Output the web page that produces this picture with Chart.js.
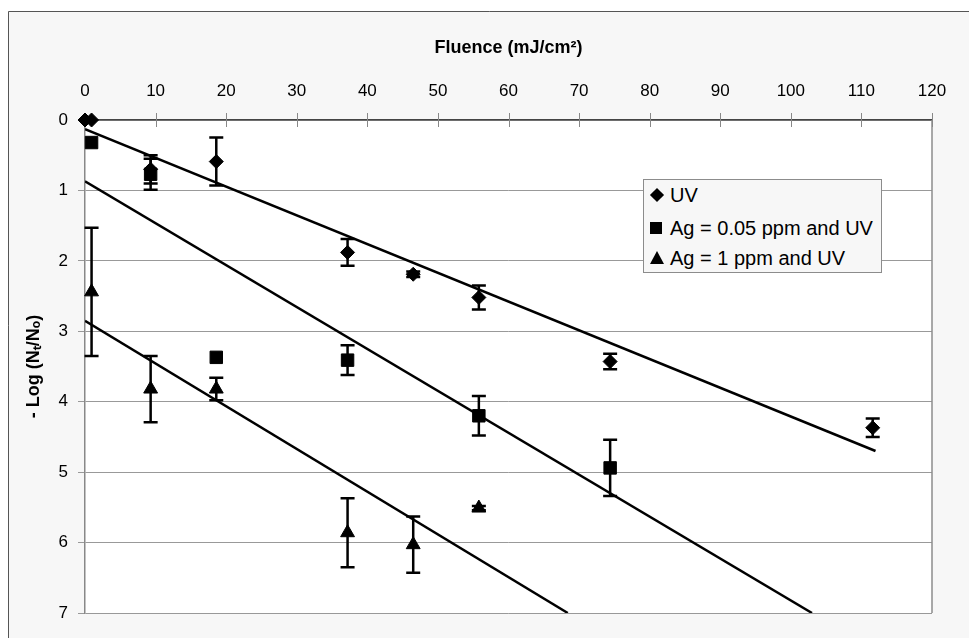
<!DOCTYPE html>
<html><head><meta charset="utf-8">
<script src="https://cdn.jsdelivr.net/npm/chart.js@4"></script>
<style>
html,body{margin:0;padding:0;background:#fff;}
#wrap{position:relative;width:969px;height:638px;overflow:hidden;}
canvas{display:block;}
#legend{position:absolute;left:643px;top:179px;width:237px;height:92px;background:#f7f7f7;border:1px solid #8c8c8c;font-family:"Liberation Sans",Arial,sans-serif;font-size:20px;color:#000;}
.item{position:absolute;left:0;height:30px;line-height:30px;white-space:nowrap;}
.txt{position:absolute;left:26px;top:0;}
.dia{position:absolute;left:8px;top:10px;width:10px;height:10px;background:#000;transform:rotate(45deg);}
.sq{position:absolute;left:6px;top:9px;width:12px;height:12px;background:#000;}
.tri{position:absolute;left:6px;top:8px;width:0;height:0;border-left:7px solid transparent;border-right:7px solid transparent;border-bottom:13px solid #000;}
</style></head>
<body>
<div id="wrap">
<canvas id="c" width="969" height="638"></canvas>
<div id="legend">
  <div class="item" style="top:0px"><span class="dia"></span><span class="txt">UV</span></div>
  <div class="item" style="top:33px"><span class="sq"></span><span class="txt">Ag = 0.05 ppm and UV</span></div>
  <div class="item" style="top:63px"><span class="tri"></span><span class="txt">Ag = 1 ppm and UV</span></div>
</div>
</div>
<script>
// ---- data ----
const xTickValues = [0, 10, 20, 30, 40, 50, 60, 70, 80, 90, 100, 110, 120];
const yTickValues = [0, 1, 2, 3, 4, 5, 6, 7];

const fluenceUV = [0, 0.93, 9.3, 18.6, 37.2, 46.5, 55.8, 74.4, 111.6];
const logUV     = [0, 0, 0.70, 0.59, 1.88, 2.19, 2.52, 3.43, 4.37];
const errUV     = [0, 0, 0.20, 0.34, 0.19, 0.04, 0.17, 0.11, 0.13];

const fluenceAg005 = [0.93, 9.3, 18.6, 37.2, 55.8, 74.4];
const logAg005     = [0.32, 0.77, 3.37, 3.41, 4.20, 4.94];
const errAg005     = [0.00, 0.22, 0.00, 0.21, 0.28, 0.40];

const fluenceAg1 = [0.93, 9.3, 18.6, 37.2, 46.5, 55.8];
const logAg1     = [2.44, 3.82, 3.82, 5.86, 6.03, 5.51];
const errAg1     = [0.91, 0.47, 0.16, 0.49, 0.40, 0.03];

const fitUVx = [0, 112],    fitUVy = [0.13, 4.70];
const fitAg005x = [0, 103], fitAg005y = [0.87, 7];
const fitAg1x = [0, 68.4],  fitAg1y = [2.85, 7];

const pts = (xs, ys) => xs.map((x, i) => ({x: x, y: ys[i]}));

Chart.defaults.font.family = '"Liberation Sans", Arial, sans-serif';
Chart.defaults.color = '#000';

const bgPlugin = {
  id: 'bg',
  beforeDraw(chart) {
    const ctx = chart.ctx, a = chart.chartArea;
    ctx.save();
    ctx.fillStyle = '#ffffff';
    ctx.fillRect(0, 0, chart.width, chart.height);
    ctx.fillStyle = '#f7f7f7';
    ctx.fillRect(8, 11, chart.width, chart.height);
    ctx.strokeStyle = '#555';
    ctx.lineWidth = 1;
    ctx.beginPath();
    ctx.moveTo(8.5, chart.height + 5); ctx.lineTo(8.5, 11.5); ctx.lineTo(chart.width + 5, 11.5);
    ctx.stroke();
    ctx.fillStyle = '#ffffff';
    ctx.fillRect(a.left, a.top, a.right - a.left, a.bottom - a.top);
    ctx.restore();
  },
  beforeDatasetsDraw(chart) {
    const ctx = chart.ctx, a = chart.chartArea, xs = chart.scales.x;
    ctx.save();
    ctx.strokeStyle = '#8c8c8c';
    ctx.lineWidth = 1.5;
    ctx.beginPath();
    ctx.moveTo(a.right, a.top); ctx.lineTo(a.right, a.bottom);
    ctx.stroke();
    ctx.strokeStyle = '#888';
    ctx.lineWidth = 1;
    xTickValues.forEach(v => {
      const px = Math.round(xs.getPixelForValue(v)) + 0.5;
      ctx.beginPath();
      ctx.moveTo(px, a.top - 7); ctx.lineTo(px, a.top + 7);
      ctx.stroke();
    });
    // error bars
    const ys = chart.scales.y;
    const groups = [[fluenceUV, logUV, errUV], [fluenceAg005, logAg005, errAg005], [fluenceAg1, logAg1, errAg1]];
    ctx.strokeStyle = '#000';
    ctx.lineWidth = 2.5;
    groups.forEach(g => {
      g[0].forEach((xv, i) => {
        const e = g[2][i];
        if (!e) return;
        const px = xs.getPixelForValue(xv);
        const p1 = ys.getPixelForValue(g[1][i] - e);
        const p2 = ys.getPixelForValue(g[1][i] + e);
        ctx.beginPath();
        ctx.moveTo(px, p1); ctx.lineTo(px, p2);
        ctx.moveTo(px - 7, p1); ctx.lineTo(px + 7, p1);
        ctx.moveTo(px - 7, p2); ctx.lineTo(px + 7, p2);
        ctx.stroke();
      });
    });
    ctx.restore();
  }
};

const lineDs = (xs, ys) => ({
  type: 'line', data: pts(xs, ys), borderColor: '#000', borderWidth: 2.5,
  pointRadius: 0, showLine: true, fill: false
});

new Chart(document.getElementById('c'), {
  type: 'scatter',
  data: {
    datasets: [
      lineDs(fitUVx, fitUVy),
      lineDs(fitAg005x, fitAg005y),
      lineDs(fitAg1x, fitAg1y),
      {label: 'UV', data: pts(fluenceUV, logUV), pointStyle: 'rectRot', pointRadius: 7, clip: false,
       backgroundColor: '#000', borderColor: '#000', borderWidth: 1},
      {label: 'Ag = 0.05 ppm and UV', data: pts(fluenceAg005, logAg005), pointStyle: 'rect', pointRadius: 8.8, clip: false,
       backgroundColor: '#000', borderColor: '#000', borderWidth: 1},
      {label: 'Ag = 1 ppm and UV', data: pts(fluenceAg1, logAg1), pointStyle: 'triangle', pointRadius: 8, clip: false,
       backgroundColor: '#000', borderColor: '#000', borderWidth: 1}
    ]
  },
  options: {
    responsive: false,
    animation: false,
    layout: {padding: {left: 8, top: 11, right: 37, bottom: 25}},
    plugins: {legend: {display: false}, tooltip: {enabled: false}},
    scales: {
      x: {
        type: 'linear', position: 'top', min: 0, max: 120,
        afterBuildTicks: s => { s.ticks = xTickValues.map(v => ({value: v})); },
        afterFit: s => { s.height = 109; },
        grid: {drawOnChartArea: false, drawTicks: false},
        border: {color: '#444', width: 1.5},
        ticks: {padding: 18, color: '#000', font: {size: 17}},
        title: {display: true, text: 'Fluence (mJ/cm²)', color: '#000',
                font: {size: 18, weight: 'bold'}, padding: {top: 26, bottom: 0}}
      },
      y: {
        type: 'linear', reverse: true, min: 0, max: 7,
        afterBuildTicks: s => { s.ticks = yTickValues.map(v => ({value: v})); },
        afterFit: s => { s.width = 77; },
        grid: {color: '#999', tickLength: 7, drawTicks: true, lineWidth: 1},
        border: {color: '#888', width: 1.5},
        ticks: {padding: 10, color: '#000', font: {size: 17}},
        title: {display: true, text: '- Log (Nₜ/Nₒ)', color: '#000',
                font: {size: 18, weight: 'bold'}, padding: {top: 15, bottom: 0}}
      }
    }
  },
  plugins: [bgPlugin]
});
</script>
</body></html>
